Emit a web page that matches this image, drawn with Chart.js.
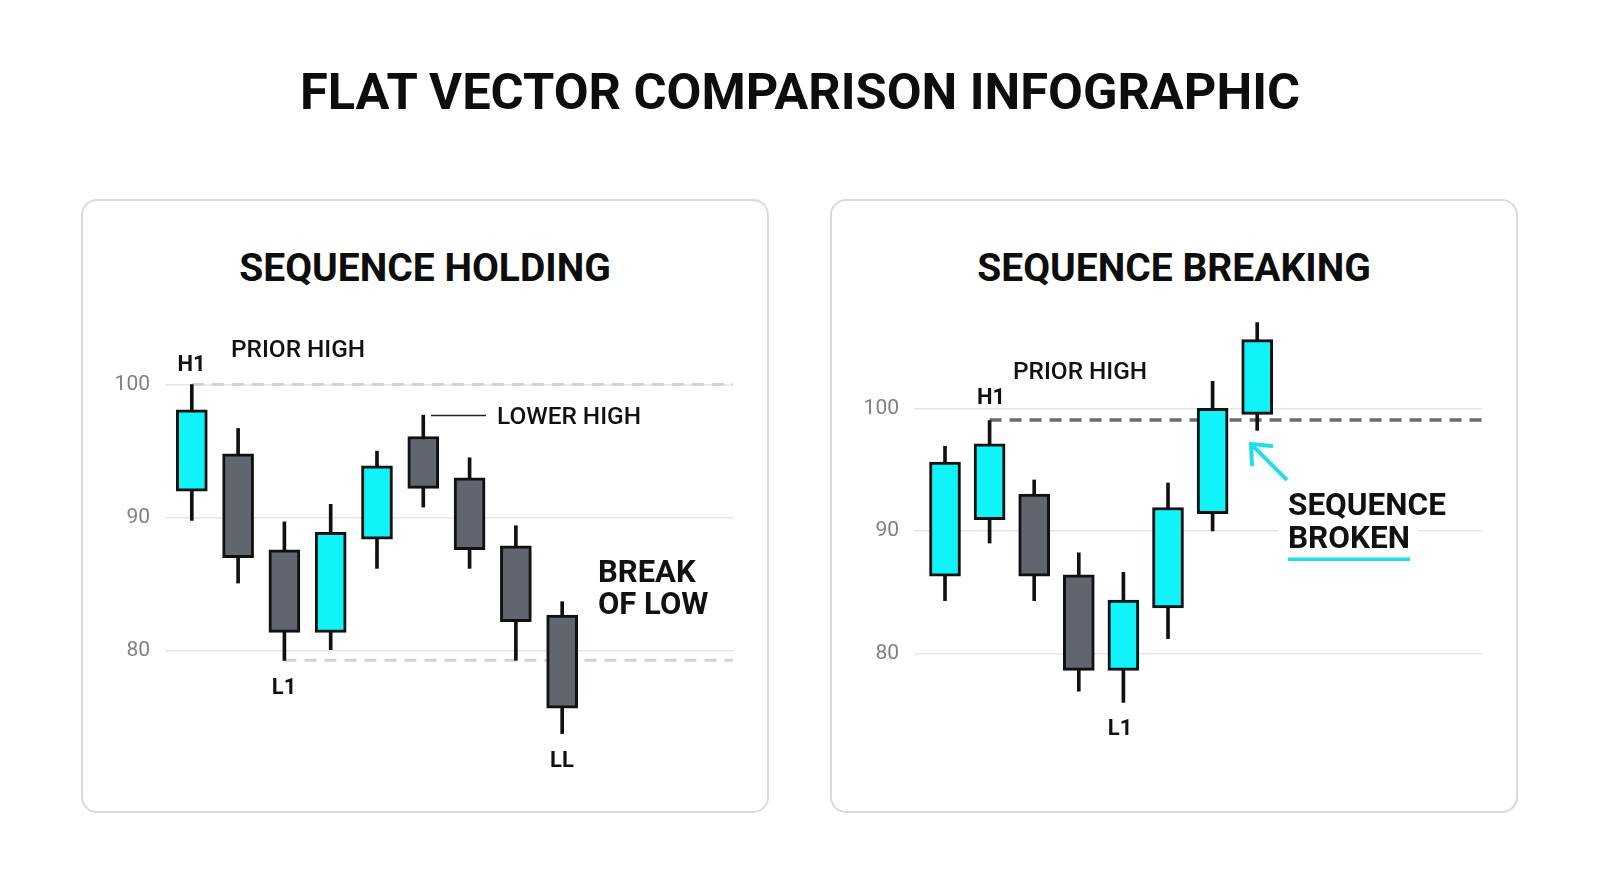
<!DOCTYPE html>
<html>
<head>
<meta charset="utf-8">
<script src="https://cdn.jsdelivr.net/npm/chart.js@4.4.1/dist/chart.umd.min.js"></script>
<style>
html,body{margin:0;padding:0;background:#fff;}
#root{position:relative;width:1600px;height:893px;overflow:hidden;font-family:Roboto,"Noto Sans",sans-serif;color:#111;background:#fff;}
.panel{position:absolute;top:199px;width:688px;height:614px;box-sizing:border-box;border:2px solid #dadada;border-radius:16px;background:#fff;}
.title{position:absolute;left:800px;top:92px;transform:translate(-50%,-50%);font-size:50.6px;font-weight:700;line-height:1;white-space:nowrap;color:#0d0d0d;}
.ptitle{position:absolute;top:268px;transform:translate(-50%,-50%);font-size:39px;font-weight:700;line-height:1;white-space:nowrap;color:#0d0d0d;}
.lbl{position:absolute;line-height:1;white-space:nowrap;transform:translate(-50%,-50%);font-weight:700;font-size:22px;}
.note{position:absolute;line-height:1;white-space:nowrap;transform:translateY(-50%);font-weight:500;font-size:24.4px;}
.big{position:absolute;font-weight:700;font-size:31px;line-height:32px;white-space:nowrap;}
.big span{display:inline-block;background:#fff;padding:0 9px;margin-left:-9px;}
canvas{position:absolute;top:199px;}
svg{position:absolute;left:0;top:0;}
</style>
</head>
<body>
<div id="root">
  <div class="title">FLAT VECTOR COMPARISON INFOGRAPHIC</div>
  <div class="panel" style="left:81px;"></div>
  <div class="panel" style="left:830px;"></div>
  <div class="ptitle" style="left:425px;">SEQUENCE HOLDING</div>
  <div class="ptitle" style="left:1174px;">SEQUENCE BREAKING</div>
  <canvas id="leftChart" width="688" height="614" style="left:81px;"></canvas>
  <canvas id="rightChart" width="688" height="614" style="left:830px;"></canvas>

  <div class="lbl" style="left:191.5px;top:364px;">H1</div>
  <div class="note" style="left:231px;top:349px;">PRIOR HIGH</div>
  <div class="note" style="left:497px;top:415.5px;">LOWER HIGH</div>
  <div class="lbl" style="left:284px;top:687px;">L1</div>
  <div class="lbl" style="left:562px;top:760px;">LL</div>
  <div class="big" style="left:598px;top:556px;"><span>BREAK</span><br><span>OF LOW</span></div>

  <div class="lbl" style="left:991px;top:396.5px;">H1</div>
  <div class="note" style="left:1013px;top:371px;">PRIOR HIGH</div>
  <div class="lbl" style="left:1120px;top:728px;">L1</div>
  <div class="big" style="left:1288px;top:488px;font-size:31.5px;line-height:33px;"><span>SEQUENCE</span><br><span>BROKEN</span></div>

  <svg width="1600" height="893" viewBox="0 0 1600 893">
    <line x1="431" y1="415.5" x2="486" y2="415.5" stroke="#222" stroke-width="1.5"/>
    <line x1="1287" y1="480" x2="1252.5" y2="445.5" stroke="#22dcea" stroke-width="4"/>
    <polyline points="1273,446 1251,444 1252,466" fill="none" stroke="#22dcea" stroke-width="4" stroke-linejoin="miter"/>
    <rect x="1288" y="557.5" width="122" height="3.5" fill="#22dcea"/>
  </svg>
</div>
<script>
// ---- data ----
const tickValues = [80, 90, 100];
const tickLabels = ['80', '90', '100'];

const leftOpen  = [92.0, 94.8, 87.6, 81.4, 88.4, 96.1, 93.0, 87.9, 82.7];
const leftClose = [98.1, 87.0, 81.4, 88.9, 93.9, 92.2, 87.6, 82.2, 75.7];
const leftHigh  = [100.0, 96.7, 89.7, 91.0, 95.0, 97.7, 94.5, 89.4, 83.7];
const leftLow   = [89.8, 85.1, 79.3, 80.1, 86.2, 90.8, 86.2, 79.3, 73.8];
const leftLevelValues = [100, 79.3];   // prior high, L1
const leftLevelStarts = [0, 2];        // candle index where level starts

const rightOpen  = [86.3, 90.9, 93.0, 86.4, 78.6, 83.7, 91.4, 99.5];
const rightClose = [95.6, 97.1, 86.3, 78.6, 84.35, 91.9, 100.0, 105.6];
const rightHigh  = [96.9, 99.0, 94.15, 88.2, 86.6, 93.9, 102.2, 107.0];
const rightLow   = [84.3, 89.0, 84.3, 76.9, 76.0, 81.2, 90.0, 98.2];
const rightLevelValues = [99.05];      // prior high
const rightLevelStarts = [1];

// ---- styles ----
const CYAN = '#10f3f8', GRAY = '#60656e', INK = '#111111';

function makeChart(id, o, h, l, c, levelVals, levelStarts, view, levelStyles) {
  const bodies = o.map((v, i) => ({x: i, y: [v, c[i]]}));
  const wicks = l.map((v, i) => ({x: i, y: [v, h[i]]}));
  const colors = o.map((v, i) => c[i] >= v ? CYAN : GRAY);
  const levels = levelVals.map((v, k) => ({
    type: 'line',
    data: [{x: levelStarts[k], y: v}, {x: view.xMax, y: v}],
    borderColor: levelStyles[k].color,
    borderWidth: levelStyles[k].width,
    borderDash: [12, 8],
    pointRadius: 0,
    fill: false,
    order: 2
  }));
  new Chart(document.getElementById(id), {
    type: 'bar',
    data: {
      datasets: [
        {type: 'bar', data: bodies, backgroundColor: colors, borderColor: INK, borderWidth: 3,
         borderSkipped: false, barThickness: 31, grouped: false, order: 0},
        {type: 'bar', data: wicks, backgroundColor: INK, borderWidth: 0,
         barThickness: 3, grouped: false, order: 1},
        ...levels
      ]
    },
    options: {
      responsive: false,
      animation: false,
      devicePixelRatio: 1,
      events: [],
      layout: {padding: {left: 0, right: 36, top: 101, bottom: 40}},
      plugins: {legend: {display: false}, tooltip: {enabled: false}},
      scales: {
        x: {type: 'linear', display: false, offset: false, min: view.xMin, max: view.xMax},
        y: {
          type: 'linear', min: view.yMin, max: view.yMax,
          afterBuildTicks: s => { s.ticks = tickValues.map(v => ({value: v})); },
          afterFit: s => { s.width = 84; },
          grid: {color: '#e6e6e6', lineWidth: 1.5, drawTicks: false},
          border: {display: false},
          ticks: {
            padding: 15, color: '#808080',
            font: {family: 'Roboto', size: 21, weight: '400'},
            callback: v => { const k = tickValues.indexOf(v); return k >= 0 ? tickLabels[k] : ''; }
          }
        }
      }
    }
  });
}

makeChart('leftChart', leftOpen, leftHigh, leftLow, leftClose, leftLevelValues, leftLevelStarts,
  {xMin: -0.579, xMax: 11.69, yMin: 70.844, yMax: 106.341},
  [{color: '#d2d2d2', width: 3}, {color: '#d2d2d2', width: 3}]);
makeChart('rightChart', rightOpen, rightHigh, rightLow, rightClose, rightLevelValues, rightLevelStarts,
  {xMin: -0.695, xMax: 12.04, yMin: 70.229, yMax: 108.841},
  [{color: '#696c74', width: 3.5}]);
</script>
</body>
</html>
